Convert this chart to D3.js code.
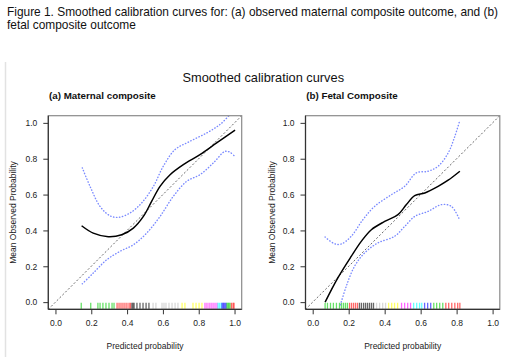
<!DOCTYPE html>
<html><head><meta charset="utf-8">
<script src="https://cdn.jsdelivr.net/npm/d3@7"></script>
<style>body{margin:0;background:#fff;} svg{display:block;font-family:"Liberation Sans",Arial,sans-serif;}</style>
</head><body>
<svg id="c" width="520" height="357"></svg>
<script>
// ---------- data ----------
const captionLines = ["Figure 1. Smoothed calibration curves for: (a) observed maternal composite outcome, and (b)", "fetal composite outcome"];
const mainTitle = "Smoothed calibration curves";
const panelTitles = ["(a) Maternal composite", "(b) Fetal Composite"];
const tickValues = [0.0, 0.2, 0.4, 0.6, 0.8, 1.0];
const xTitle = "Predicted probability";
const yTitle = "Mean Observed Probability";

// (a) maternal
const matX     = [0.146,0.211,0.295,0.370,0.435,0.491,0.537,0.584,0.640,0.714,0.807,0.900,1.003];
const matY     = [0.426,0.385,0.365,0.376,0.413,0.478,0.562,0.646,0.711,0.767,0.823,0.888,0.959];
const matUpX   = [0.150,0.193,0.249,0.304,0.351,0.416,0.481,0.547,0.602,0.668,0.751,0.845,0.919,0.975,1.000];
const matUpY   = [0.749,0.646,0.534,0.482,0.473,0.497,0.553,0.646,0.758,0.851,0.897,0.944,0.991,1.046,1.070];
const matLoX   = [0.150,0.211,0.286,0.360,0.435,0.509,0.584,0.658,0.733,0.807,0.882,0.947,0.975,0.997];
const matLoY   = [0.102,0.162,0.236,0.283,0.320,0.385,0.478,0.590,0.674,0.711,0.777,0.841,0.836,0.817];

// (b) fetal
const fetX     = [0.069,0.139,0.214,0.270,0.326,0.400,0.474,0.521,0.567,0.623,0.697,0.753,0.818];
const fetY     = [0.000,0.134,0.255,0.339,0.404,0.450,0.488,0.544,0.594,0.609,0.646,0.680,0.730];
const fetUpX   = [0.069,0.121,0.158,0.214,0.279,0.344,0.437,0.511,0.576,0.641,0.697,0.753,0.790,0.818];
const fetUpY   = [0.363,0.326,0.324,0.367,0.460,0.534,0.599,0.646,0.721,0.730,0.758,0.832,0.925,1.015];
const fetLoX   = [0.154,0.186,0.232,0.288,0.362,0.455,0.511,0.567,0.641,0.716,0.771,0.818];
const fetLoY   = [-0.015,0.087,0.199,0.274,0.330,0.367,0.422,0.478,0.506,0.544,0.534,0.456];

// rug groups (R palette order used by the plot)
const rugColors = ["#00CD00","#FF0000","#000000","#BEBEBE","#FFFF00","#FF00FF","#00FFFF","#0000FF","#00CD00","#FF0000"];
const rugMaternal = [
  [0.144,0.197,0.237,0.249,0.265,0.282,0.299,0.316,0.327],
  [0.344,0.355,0.366,0.377,0.388,0.399,0.411,0.419],
  [0.427,0.433,0.439,0.455,0.472,0.489,0.506,0.522],
  [0.545,0.561,0.595,0.606,0.617,0.634,0.651,0.668,0.684],
  [0.707,0.723,0.768,0.785,0.802,0.818],
  [0.835,0.846,0.858,0.869,0.880,0.891,0.902],
  [0.908,0.916,0.925],
  [0.930,0.936,0.941,0.947,0.953],
  [0.958,0.964,0.969,0.975],
  [0.983,0.992,0.997]
];
const rugFetal = [
  [0.069,0.082,0.099,0.115,0.132,0.149,0.160,0.171,0.182,0.193],
  [0.205,0.216,0.227,0.238,0.249],
  [0.260,0.271,0.283,0.294,0.305,0.316,0.327,0.338],
  [0.355,0.372,0.389,0.405],
  [0.422,0.439,0.455,0.472],
  [0.494,0.511,0.528,0.544],
  [0.561,0.578,0.594,0.606],
  [0.622,0.639,0.656],
  [0.673,0.689,0.706,0.723],
  [0.740,0.756,0.773,0.790,0.806,0.818]
];

// ---------- drawing ----------
const svg = d3.select("#c");

svg.selectAll("text.cap").data(captionLines).join("text")
  .attr("x", 7).attr("y", (d,i)=>15.5 + i*13.3)
  .attr("font-size", 11.9).attr("fill", "#111").text(d=>d);

svg.append("line").attr("x1",5.5).attr("x2",5.5).attr("y1",62).attr("y2",357)
  .attr("stroke","#e2e2e2").attr("stroke-width",1.5);

svg.append("text").attr("x",263.3).attr("y",81.5).attr("text-anchor","middle")
  .attr("font-size",12.8).attr("fill","#111").text(mainTitle);

const panels = [
  {x0:48.3, x1:241.7, title:panelTitles[0], line:[matX,matY], up:[matUpX,matUpY], lo:[matLoX,matLoY], rug:rugMaternal, yt:13.3},
  {x0:305.5, x1:499.8, title:panelTitles[1], line:[fetX,fetY], up:[fetUpX,fetUpY], lo:[fetLoX,fetLoY], rug:rugFetal, yt:271.7}
];
const y0 = 115.7, y1 = 309.3;

panels.forEach((p, k) => {
  const x = d3.scaleLinear().domain([-0.04,1.04]).range([p.x0,p.x1]);
  const y = d3.scaleLinear().domain([-0.04,1.04]).range([y1,y0]);
  const g = svg.append("g");

  g.append("text").attr("x",p.x0+0.7).attr("y",99).attr("font-size",9.8)
    .attr("font-weight","bold").attr("fill","#111").text(p.title);

  const clipId = "clip"+k;
  svg.append("clipPath").attr("id",clipId).append("rect")
    .attr("x",p.x0).attr("y",y0).attr("width",p.x1-p.x0).attr("height",y1-y0);
  const inner = g.append("g").attr("clip-path",`url(#${clipId})`);

  // rug
  p.rug.forEach((vals, gi) => {
    inner.selectAll(null).data(vals).join("line")
      .attr("x1",d=>x(d)).attr("x2",d=>x(d)).attr("y1",y1-6.5).attr("y2",y1)
      .attr("stroke",rugColors[gi]).attr("stroke-width",1.3).attr("stroke-opacity",0.6);
  });

  // diagonal
  inner.append("line").attr("x1",x(-0.04)).attr("y1",y(-0.04)).attr("x2",x(1.04)).attr("y2",y(1.04))
    .attr("stroke","#6a6a6a").attr("stroke-width",1).attr("stroke-dasharray","2,2");

  const mk = arr => arr[0].map((v,i)=>[v, arr[1][i]]);
  const lineGen = d3.line().x(d=>x(d[0])).y(d=>y(d[1])).curve(d3.curveCatmullRom.alpha(0.5));

  [p.up, p.lo].forEach(b => {
    inner.append("path").datum(mk(b)).attr("d",lineGen).attr("fill","none")
      .attr("stroke","#7a8aff").attr("stroke-width",1.4).attr("stroke-linecap","round")
      .attr("stroke-dasharray","0.4,2.6");
  });
  inner.append("path").datum(mk(p.line)).attr("d",lineGen).attr("fill","none")
    .attr("stroke","#000").attr("stroke-width",1.5);

  // box
  g.append("rect").attr("x",p.x0).attr("y",y0).attr("width",p.x1-p.x0).attr("height",y1-y0)
    .attr("fill","none").attr("stroke","#8a8a8a").attr("stroke-width",1.2);

  // axes
  const xa = g.append("g").attr("transform",`translate(0,${y1})`)
    .call(d3.axisBottom(x).tickValues(tickValues).tickFormat(d3.format(".1f")).tickSize(5).tickPadding(6));
  const ya = g.append("g").attr("transform",`translate(${p.x0},0)`)
    .call(d3.axisLeft(y).tickValues(tickValues).tickFormat(d3.format(".1f")).tickSize(5).tickPadding(6));
  [xa, ya].forEach(a => {
    a.select(".domain").remove();
    a.selectAll(".tick line").attr("stroke","#333");
    a.selectAll(".tick text").attr("font-size",8.5).attr("fill","#222")
      .attr("font-family","'Liberation Sans',Arial,sans-serif");
  });
  g.append("line").attr("x1",p.x0).attr("x2",p.x0).attr("y1",y0).attr("y2",y1).attr("stroke","#333").attr("stroke-width",1.2);
  g.append("line").attr("x1",p.x0).attr("x2",p.x1).attr("y1",y1).attr("y2",y1).attr("stroke","#333").attr("stroke-width",1.2);

  g.append("text").attr("x",(p.x0+p.x1)/2).attr("y",349).attr("text-anchor","middle")
    .attr("font-size",8.5).attr("fill","#222").text(xTitle);
  g.append("text").attr("transform",`translate(${p.yt},${(y0+y1)/2}) rotate(-90)`)
    .attr("text-anchor","middle").attr("dominant-baseline","central")
    .attr("font-size",8.5).attr("fill","#222").text(yTitle);
});
</script>
</body></html>
